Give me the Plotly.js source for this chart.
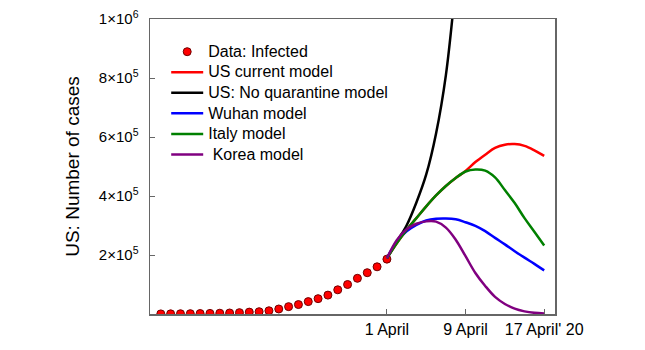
<!DOCTYPE html>
<html>
<head>
<meta charset="utf-8">
<script src="https://cdn.plot.ly/plotly-3.0.1.min.js"></script>
<style>html,body{margin:0;padding:0;background:#fff;}#chart{width:645px;height:350px;}</style>
</head>
<body>
<div id="chart"></div>
<script>
// Days relative to 1 April 2020 (0 = 1 April)
const dataDays = [-23,-22,-21,-20,-19,-18,-17,-16,-15,-14,-13,-12,-11,-10,-9,-8,-7,-6,-5,-4,-3,-2,-1,0];
const dataInfected = [400,600,900,1200,1600,2100,2700,3500,4600,6400,7800,11000,17000,25000,32000,42000,52000,64000,82000,100000,121000,140000,160000,186000];

const modelDays = [0,1,2,3,4,5,6,7,8,9,10,11,12,13,14,15,16];
const usCurrent = [189000,240000,285000,325000,365000,402000,434000,461000,485000,515000,540000,563000,574000,576000,570000,555000,536000];
const italyModel = [189000,240000,285000,325000,365000,402000,434000,461000,483000,490000,486000,463000,420000,376000,325000,279000,232000];
const wuhanModel = [189000,245000,280000,302000,317000,323000,324000,321000,311000,299000,281000,258000,236000,213000,191000,170000,148000];
const koreaModel = [189000,250000,287000,306000,314000,313000,293000,252000,196000,139000,95000,58000,34000,18000,9000,4000,2000];

const noQuarDays = [0,1,2,3,4,5,6,7];
const noQuarantine = [189000,245000,300000,378000,473000,612000,810000,1120000];

const xTickVals = [0,8,16];
const xTickText = ['1 April','9 April',"17 April' 20"];
const yTickVals = [200000,400000,600000,800000,1000000];
const yTickText = ['2×10<sup>5</sup>','4×10<sup>5</sup>','6×10<sup>5</sup>','8×10<sup>5</sup>','1×10<sup>6</sup>'];
const seriesNames = ['Data: Infected','US current model','US: No quarantine model','Wuhan model','Italy model',' Korea model'];

const lw = 2.5;
const lg = s => '<span style="font-size:16px">' + s + '</span>';
const traces = [
  {x: dataDays, y: dataInfected, mode: 'markers', name: lg(seriesNames[0]),
   marker: {color: '#ff0000', size: 8, line: {color: '#700000', width: 1}}},
  {x: modelDays, y: usCurrent, mode: 'lines', name: lg(seriesNames[1]),
   line: {color: '#ff0000', width: lw, shape: 'spline'}},
  {x: noQuarDays, y: noQuarantine, mode: 'lines', name: lg(seriesNames[2]),
   line: {color: '#000000', width: lw, shape: 'spline'}},
  {x: modelDays, y: wuhanModel, mode: 'lines', name: lg(seriesNames[3]),
   line: {color: '#0000ff', width: lw, shape: 'spline'}},
  {x: modelDays, y: italyModel, mode: 'lines', name: lg(seriesNames[4]),
   line: {color: '#008000', width: lw, shape: 'spline'}},
  {x: modelDays, y: koreaModel, mode: 'lines', name: lg(seriesNames[5]),
   line: {color: '#800080', width: lw, shape: 'spline'}}
];

const layout = {
  width: 645, height: 350,
  margin: {l: 150, r: 90, t: 19, b: 36},
  paper_bgcolor: '#ffffff', plot_bgcolor: '#ffffff',
  font: {family: '"Liberation Sans", Arial, sans-serif', size: 15, color: '#000'},
  showlegend: true,
  legend: {x: 0.04, y: 0.941, xanchor: 'left', yanchor: 'top', bgcolor: 'rgba(0,0,0,0)',
           borderwidth: 0, font: {size: 13.5}, tracegroupgap: 0, itemwidth: 32},
  xaxis: {range: [-24.1, 17.1], tickvals: xTickVals, ticktext: xTickText,
          ticks: 'inside', ticklen: 5, tickcolor: '#666', showgrid: false, zeroline: false,
          showline: true, linecolor: '#666', linewidth: 1.5, mirror: true,
          tickfont: {size: 16}},
  yaxis: {range: [0, 1000000], tickvals: yTickVals, ticktext: yTickText,
          ticks: 'inside', ticklen: 5, tickcolor: '#666', showgrid: false, zeroline: false,
          showline: true, linecolor: '#666', linewidth: 1.5, mirror: true,
          tickfont: {size: 15}, ticklabelstandoff: 7,
          title: {text: 'US: Number of cases', font: {size: 19}, standoff: 14}}
};

Plotly.newPlot('chart', traces, layout, {displayModeBar: false, staticPlot: true});
</script>
</body>
</html>
